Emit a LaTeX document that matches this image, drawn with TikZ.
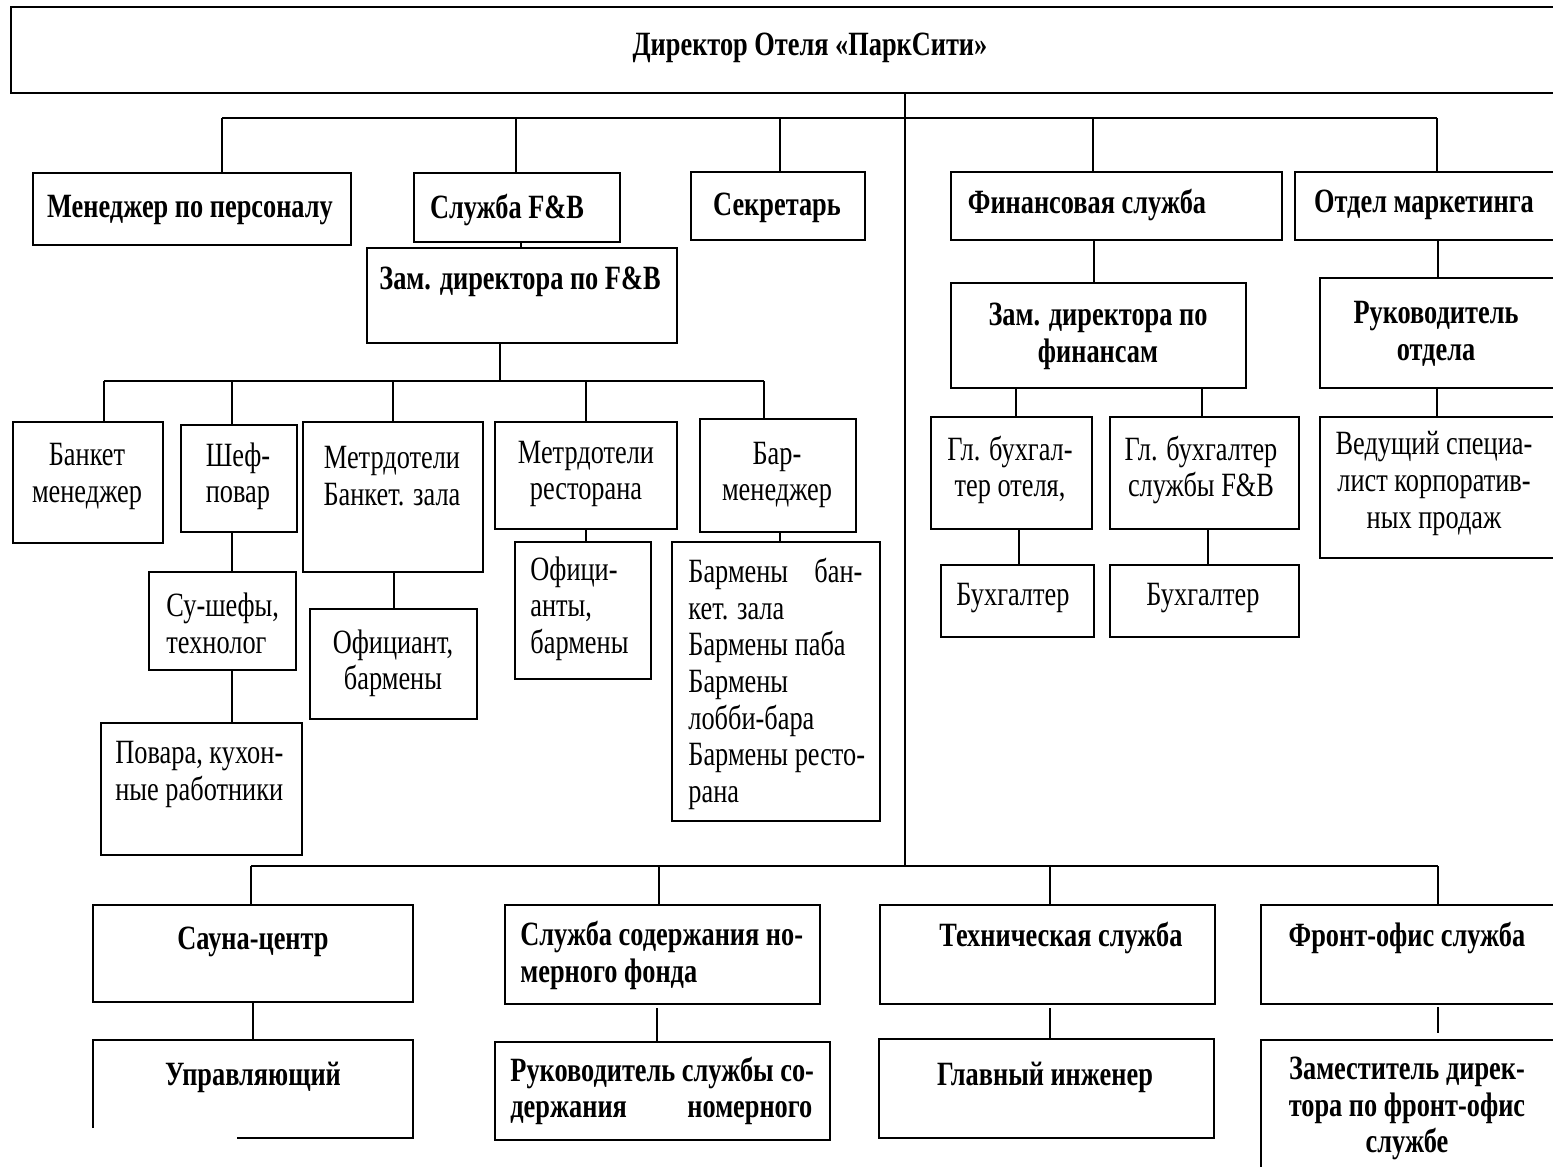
\documentclass[tikz,border=0pt]{standalone}
\usepackage{fontspec}
\setmainfont{Liberation Serif}[FakeStretch=0.775]
\tikzset{
  bx/.style={draw, line width=1pt, inner sep=0pt, outer sep=0pt},
  ln/.style={line width=0.75pt},
  tx/.style={inner sep=0pt, font=\fontsize{17}{18.3}\selectfont, align=center},
  tb/.style={inner sep=0pt, font=\fontsize{17}{18.3}\selectfont\bfseries, align=center},
}
\newcommand\mkbox[6][bx]{\node[#1, minimum width={(#5-#3)*0.5pt}, minimum height={(#6-#4)*0.5pt}] (#2) at ({(#3+#5)/2},{(#4+#6)/2}) {};}
\newcommand\vcn[4][]{\draw[ln,#1] (#2.south -| #3,0) -- (#4.north -| #3,0);}
\begin{document}
\begin{tikzpicture}[x=0.5pt,y=-0.5pt]
\useasboundingbox (0,0) rectangle (1553,1167);
\clip (0,0) rectangle (1553,1167);
% boxes
\mkbox{top}{11}{7}{1565}{93}
\mkbox{mgr}{33}{173}{351}{245}
\mkbox{fb}{414}{173}{620}{242}
\mkbox{sec}{691}{172}{865}{240}
\mkbox{fin}{951}{172}{1282}{240}
\mkbox{mkt}{1295}{172}{1565}{240}
\mkbox{zfb}{367}{248}{677}{343}
\mkbox{zfin}{951}{283}{1246}{388}
\mkbox{ruk}{1320}{278}{1565}{388}
\mkbox{bank}{13}{422}{163}{543}
\mkbox{chef}{181}{425}{297}{532}
\mkbox{mbz}{303}{422}{483}{572}
\mkbox{mrest}{495}{422}{677}{529}
\mkbox{barm}{700}{419}{856}{532}
\mkbox{sous}{149}{572}{296}{670}
\mkbox{povar}{101}{723}{302}{855}
\mkbox{ofb}{310}{609}{477}{719}
\mkbox{ofr}{515}{542}{651}{679}
\mkbox{barmen}{672}{542}{880}{821}
\mkbox{gbA}{931}{417}{1092}{529}
\mkbox{gbB}{1110}{417}{1299}{529}
\mkbox{bhA}{941}{565}{1094}{637}
\mkbox{bhB}{1110}{565}{1299}{637}
\mkbox{ved}{1320}{417}{1565}{558}
\mkbox{sauna}{93}{905}{413}{1002}
\mkbox{hk}{505}{905}{820}{1004}
\mkbox{tech}{880}{905}{1215}{1004}
\mkbox{front}{1261}{905}{1565}{1004}
\mkbox[inner sep=0pt,outer sep=0pt]{upr}{93}{1040}{413}{1138}
\draw[line width=1pt] ([yshift=5pt]upr.south west) -- (upr.north west) -- (upr.north east) -- (upr.south east) -- (upr.south -| 237,0);
\mkbox{rhk}{495}{1042}{830}{1140}
\mkbox{eng}{879}{1039}{1214}{1138}
\mkbox{zfront}{1261}{1040}{1565}{1190}
% buses
\coordinate (tbL) at (222,118);
\coordinate (tbR) at (1437,118);
\coordinate (fbL) at (104,381);
\coordinate (fbR) at (764,381);
\coordinate (bbL) at (251,866);
\coordinate (bbR) at (1438,866);
\draw[ln] (top.south -| 905,0) -- (bbL -| 905,0);
\draw[ln] (tbL) -- (tbR);
\draw[ln] (fbL) -- (fbR);
\draw[ln] (bbL) -- (bbR);
% top level drops
\draw[ln] (tbL) -- (tbL |- mgr.north);
\draw[ln] (tbL -| 516,0) -- (fb.north -| 516,0);
\draw[ln] (tbL -| 780,0) -- (sec.north -| 780,0);
\draw[ln] (tbL -| 1093,0) -- (fin.north -| 1093,0);
\draw[ln] (tbR) -- (tbR |- mkt.north);
\vcn{fb}{521}{zfb}
\draw[ln] (zfb.south -| 500,0) -- (fbL -| 500,0);
% F&B drops
\draw[ln] (fbL) -- (fbL |- bank.north);
\draw[ln] (fbL -| 232,0) -- (chef.north -| 232,0);
\draw[ln] (fbL -| 393,0) -- (mbz.north -| 393,0);
\draw[ln] (fbL -| 586,0) -- (mrest.north -| 586,0);
\draw[ln] (fbR) -- (fbR |- barm.north);
\vcn{chef}{232}{sous}
\vcn{sous}{232}{povar}
\vcn{mbz}{394}{ofb}
\vcn{mrest}{586}{ofr}
\vcn{barm}{780}{barmen}
% finance / marketing
\vcn{fin}{1094}{zfin}
\vcn{mkt}{1438}{ruk}
\vcn{zfin}{1016}{gbA}
\vcn{zfin}{1202}{gbB}
\vcn{gbA}{1019}{bhA}
\vcn{gbB}{1208}{bhB}
\vcn{ruk}{1437}{ved}
% bottom drops
\draw[ln] (bbL) -- (bbL |- sauna.north);
\draw[ln] (bbL -| 659,0) -- (hk.north -| 659,0);
\draw[ln] (bbL -| 1050,0) -- (tech.north -| 1050,0);
\draw[ln] (bbR) -- (bbR |- front.north);
\vcn{sauna}{253}{upr}
\vcn[shorten <=2pt]{hk}{657}{rhk}
\vcn[shorten <=2pt]{tech}{1050}{eng}
\vcn[shorten <=1.5pt, shorten >=3.5pt]{front}{1438}{zfront}
% texts
\node[tb] (t-top) at (810,48) {Директор Отеля «ПаркСити»};
\node[tb] (t-mgr) at (190,210) {Менеджер по персоналу};
\node[tb] (t-fb) at (507,210) {Служба F\&B};
\node[tb] (t-sec) at (777,208) {Секретарь};
\node[tb] (t-fin) at (1087,205) {Финансовая служба};
\node[tb] (t-mkt) at (1424,205) {Отдел маркетинга};
\node[tb] (t-zfb) at (520,282) {Зам. директора по F\&B};
\node[tb] (t-zfin) at (1098,336.5) {Зам. директора по\\финансам};
\node[tb] (t-ruk) at (1436,334) {Руководитель\\отдела};
\node[tx] (t-bank) at (87,476.5) {Банкет\\менеджер};
\node[tx] (t-chef) at (238,476.5) {Шеф-\\повар};
\node[tx] (t-mbz) at (392,476) {Метрдотели\\Банкет. зала};
\node[tx] (t-mrest) at (586,474) {Метрдотели\\ресторана};
\node[tx] (t-barm) at (777,475) {Бар-\\менеджер};
\node[tx, anchor=west, align=left] (t-sous) at (166,623.5) {Су-шефы,\\технолог};
\node[tx, anchor=west, align=left] (t-povar) at (115,774.5) {Повара, кухон-\\ные работники};
\node[tx] (t-ofb) at (393,663.5) {Официант,\\бармены};
\node[tx, anchor=west, align=left] (t-ofr) at (530,608.5) {Офици-\\анты,\\бармены};
\node[tx, anchor=west, align=left] (t-barmen) at (688,684) {\makebox[87pt][s]{Бармены бан-}\\кет. зала\\Бармены паба\\Бармены\\лобби-бара\\Бармены ресто-\\рана};
\node[tx] (t-gbA) at (1010,470) {Гл. бухгал-\\тер отеля,};
\node[tx] (t-gbB) at (1201,470) {Гл. бухгалтер\\службы F\&B};
\node[tx] (t-bhA) at (1013,598) {Бухгалтер};
\node[tx] (t-bhB) at (1203,598) {Бухгалтер};
\node[tx] (t-ved) at (1434,483.5) {Ведущий специа-\\лист корпоратив-\\ных продаж};
\node[tb] (t-sauna) at (253,942) {Сауна-центр};
\node[tb, anchor=west, align=left] (t-hk) at (520,955.5) {Служба содержания но-\\мерного фонда};
\node[tb] (t-tech) at (1061,938) {Техническая служба};
\node[tb] (t-front) at (1407,938) {Фронт-офис служба};
\node[tb] (t-upr) at (253,1077) {Управляющий};
\node[tb, anchor=west, align=left] (t-rhk) at (510,1091) {Руководитель службы со-\\\makebox[151pt][s]{держания номерного}};
\node[tb] (t-eng) at (1045,1077) {Главный инженер};
\node[tb] (t-zfront) at (1407,1108.5) {Заместитель дирек-\\тора по фронт-офис\\службе};
\end{tikzpicture}
\end{document}
